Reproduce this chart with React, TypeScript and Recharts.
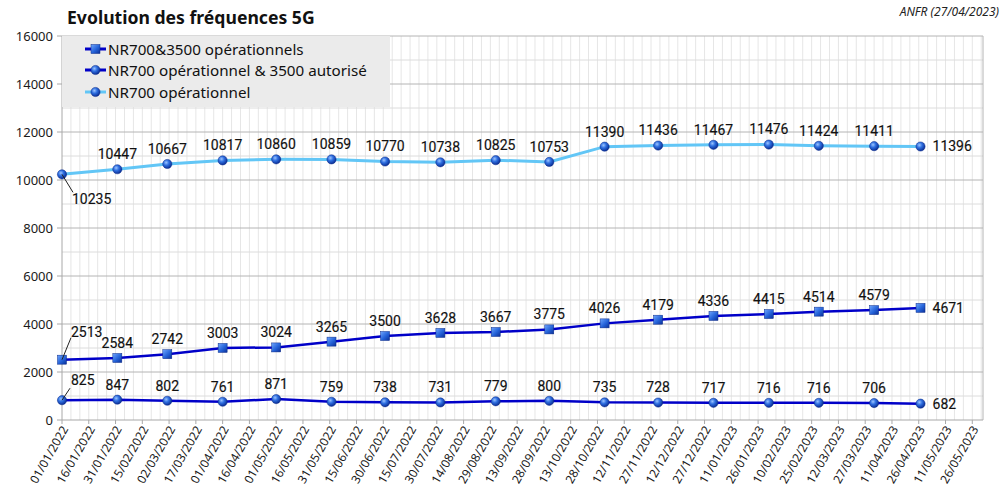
import React from 'react';
import { LineChart, Line, XAxis, YAxis, ReferenceLine, LabelList, Legend } from 'recharts';

// relevés ANFR (1er de chaque mois, dernier au 27/04/2023)
const dates = [
  '01/01/2022', '01/02/2022', '01/03/2022', '01/04/2022', '01/05/2022', '01/06/2022',
  '01/07/2022', '01/08/2022', '01/09/2022', '01/10/2022', '01/11/2022', '01/12/2022',
  '01/01/2023', '01/02/2023', '01/03/2023', '01/04/2023', '27/04/2023',
];
const nr700Op = [10235, 10447, 10667, 10817, 10860, 10859, 10770, 10738, 10825, 10753, 11390, 11436, 11467, 11476, 11424, 11411, 11396];
const nr700And3500Op = [2513, 2584, 2742, 3003, 3024, 3265, 3500, 3628, 3667, 3775, 4026, 4179, 4336, 4415, 4514, 4579, 4671];
const nr700Op3500Aut = [825, 847, 802, 761, 871, 759, 738, 731, 779, 800, 735, 728, 717, 716, 716, 706, 682];

const xTickLabels = [
  '01/01/2022', '16/01/2022', '31/01/2022', '15/02/2022', '02/03/2022', '17/03/2022', '01/04/2022',
  '16/04/2022', '01/05/2022', '16/05/2022', '31/05/2022', '15/06/2022', '30/06/2022', '15/07/2022',
  '30/07/2022', '14/08/2022', '29/08/2022', '13/09/2022', '28/09/2022', '13/10/2022', '28/10/2022',
  '12/11/2022', '27/11/2022', '12/12/2022', '27/12/2022', '11/01/2023', '26/01/2023', '10/02/2023',
  '25/02/2023', '12/03/2023', '27/03/2023', '11/04/2023', '26/04/2023', '11/05/2023', '26/05/2023',
];
const xEnd = '01/06/2023';
const yTicks = [0, 2000, 4000, 6000, 8000, 10000, 12000, 14000, 16000];

const T0 = Date.UTC(2022, 0, 1);
const toDay = (s: string) => {
  const [d, m, y] = s.split('/').map(Number);
  return Math.round((Date.UTC(y, m - 1, d) - T0) / 86400000);
};

const data = dates.map((d, i) => ({
  t: toDay(d),
  op: nr700Op[i],
  both: nr700And3500Op[i],
  aut: nr700Op3500Aut[i],
}));

const xTicks = xTickLabels.map(toDay);
const tickText: Record<number, string> = {};
xTickLabels.forEach((l) => (tickText[toDay(l)] = l));
const dayEnd = toDay(xEnd);

const minorX: number[] = [];
for (let d = 5; d < dayEnd; d += 5) minorX.push(d);
const minorY = [1000, 3000, 5000, 7000, 9000, 11000, 13000, 15000];

const DARK = '#0000c8';
const LIGHT = '#62c6f6';

const sphere = (p: any) => (
  <circle key={`s${p.dataKey}${p.index}`} cx={p.cx} cy={p.cy} r={4.6} fill="url(#sphere)" stroke="#0a2a8a" strokeWidth={0.5} />
);
const cube = (p: any) => (
  <rect key={`c${p.index}`} x={p.cx - 4.5} y={p.cy - 4.5} width={9} height={9} fill="url(#cube)" stroke="#0a2a8a" strokeWidth={0.5} />
);

const labelStyle = {
  fontFamily: 'Roboto',
  fontSize: 14,
  fontWeight: 400,
  fill: '#111',
  stroke: '#111',
  strokeWidth: 0.15,
};

// premier point: étiquette décalée avec trait de rappel, dernier: à droite
const makeLabel = (lead: [number, number], txt: [number, number]) => (p: any) => {
  const { x, y, value, index } = p;
  if (index === 0) {
    return (
      <g key={`l${index}`}>
        <line x1={x} y1={y} x2={x + lead[0]} y2={y + lead[1]} stroke="#222" strokeWidth={1} />
        <text x={x + txt[0]} y={y + txt[1]} dy="0.35em" textAnchor="start" {...labelStyle}>{value}</text>
      </g>
    );
  }
  if (index === data.length - 1) {
    return (
      <text key={`l${index}`} x={x + 12} y={y} dy="0.35em" textAnchor="start" {...labelStyle}>{value}</text>
    );
  }
  return (
    <text key={`l${index}`} x={x} y={y - 15} dy="0.35em" textAnchor="middle" {...labelStyle}>{value}</text>
  );
};

const XTick = (p: any) => {
  const { x, y, payload } = p;
  return (
    <g transform={`translate(${x + 3},${y + 1}) rotate(-60)`}>
      <text x={0} y={0} dy="0.35em" textAnchor="end" fontFamily="Noto Sans" fontSize={12} fill="#1a1a1a">
        {tickText[payload.value]}
      </text>
    </g>
  );
};

const legendItems = [
  { name: 'NR700&3500 opérationnels', color: DARK, shape: 'cube' },
  { name: 'NR700 opérationnel & 3500 autorisé', color: DARK, shape: 'sphere' },
  { name: 'NR700 opérationnel', color: LIGHT, shape: 'sphere' },
];

const LegendBox = () => (
  <div style={{ width: 328, height: 71, background: '#ebebeb', boxSizing: 'border-box', paddingTop: 2 }}>
    {legendItems.map((it) => (
      <div key={it.name} style={{ display: 'flex', alignItems: 'center', height: 21.5 }}>
        <svg width={46} height={14} style={{ flex: 'none' }}>
          <line x1={23} y1={7} x2={44} y2={7} stroke={it.color} strokeWidth={3} />
          {it.shape === 'cube' ? (
            <rect x={29} y={2.5} width={9} height={9} fill="url(#cube)" stroke="#0a2a8a" strokeWidth={0.5} />
          ) : (
            <circle cx={33.5} cy={7} r={4.6} fill="url(#sphere)" stroke="#0a2a8a" strokeWidth={0.5} />
          )}
        </svg>
        <span style={{ fontFamily: 'Noto Sans', fontSize: 15.2, color: '#111', whiteSpace: 'nowrap' }}>{it.name}</span>
      </div>
    ))}
  </div>
);

export default function App() {
  return (
    <div style={{ position: 'relative', width: 1008, height: 496, background: '#fff' }}>
      <style>{'body{margin:0}'}</style>
      <div style={{ position: 'absolute', left: 67, top: 5, fontFamily: 'Noto Sans', fontWeight: 700, fontSize: 17.6, color: '#111', zIndex: 2 }}>
        Evolution des fréquences 5G
      </div>
      <div style={{ position: 'absolute', right: 9, top: 3, fontFamily: 'Noto Sans', fontStyle: 'italic', fontSize: 12, color: '#222', zIndex: 2 }}>
        ANFR (27/04/2023)
      </div>
      <LineChart width={1008} height={496} data={data} margin={{ top: 36, right: 25, left: 7, bottom: 0 }}>
        <defs>
          <radialGradient id="sphere" cx="38%" cy="35%" r="65%">
            <stop offset="0%" stopColor="#9cc4ff" />
            <stop offset="45%" stopColor="#2f6fe0" />
            <stop offset="100%" stopColor="#0b2f96" />
          </radialGradient>
          <linearGradient id="cube" x1="0" y1="0" x2="1" y2="1">
            <stop offset="0%" stopColor="#6fa6ff" />
            <stop offset="55%" stopColor="#2462d8" />
            <stop offset="100%" stopColor="#0b2f96" />
          </linearGradient>
        </defs>
        {minorX.map((d) => (
          <ReferenceLine key={`vx${d}`} x={d} stroke="#e6e6e6" strokeWidth={1} />
        ))}
        {minorY.map((v) => (
          <ReferenceLine key={`hy${v}`} y={v} stroke="#dcdcdc" strokeWidth={1} />
        ))}
        {yTicks.slice(1).map((v) => (
          <ReferenceLine key={`my${v}`} y={v} stroke="#b4b4b4" strokeWidth={1} />
        ))}
        <ReferenceLine x={dayEnd} stroke="#b4b4b4" strokeWidth={1} />
        <XAxis
          type="number"
          dataKey="t"
          domain={[0, dayEnd]}
          ticks={xTicks}
          interval={0}
          height={76}
          stroke="#a8a8a8"
          tickSize={4}
          tick={<XTick />}
        />
        <YAxis
          domain={[0, 16000]}
          ticks={yTicks}
          width={55}
          stroke="#a8a8a8"
          tickSize={5}
          tickMargin={4}
          tick={{ fill: '#1a1a1a', fontSize: 13, fontFamily: 'Noto Sans' }}
        />
        <Legend
          layout="vertical"
          align="center"
          verticalAlign="middle"
          content={<LegendBox />}
          wrapperStyle={{ top: 36, left: 62, width: 328, height: 71 }}
        />
        <Line
          dataKey="op"
          name="NR700 opérationnel"
          stroke={LIGHT}
          strokeWidth={3}
          dot={sphere}
          isAnimationActive={false}
        >
          <LabelList dataKey="op" content={makeLabel([11, 18], [10, 25])} />
        </Line>
        <Line
          dataKey="both"
          name="NR700&3500 opérationnels"
          stroke={DARK}
          strokeWidth={2.5}
          dot={cube}
          isAnimationActive={false}
        >
          <LabelList dataKey="both" content={makeLabel([9, -22], [9, -28])} />
        </Line>
        <Line
          dataKey="aut"
          name="NR700 opérationnel & 3500 autorisé"
          stroke={DARK}
          strokeWidth={2.5}
          dot={sphere}
          isAnimationActive={false}
        >
          <LabelList dataKey="aut" content={makeLabel([8, -12], [9, -20])} />
        </Line>
      </LineChart>
    </div>
  );
}
